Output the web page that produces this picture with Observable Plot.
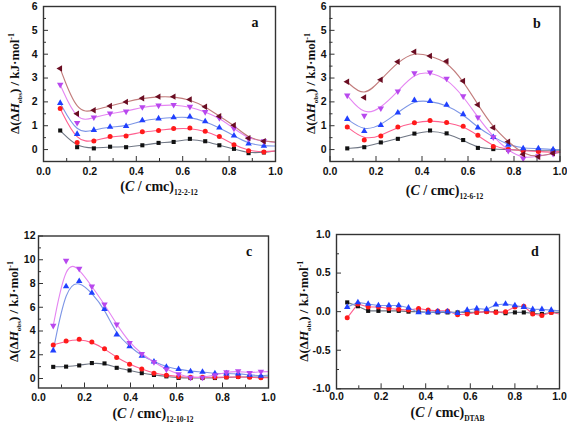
<!DOCTYPE html>
<html>
<head>
<meta charset="utf-8">
<script src="https://cdn.jsdelivr.net/npm/d3@7"></script>
<script src="https://cdn.jsdelivr.net/npm/@observablehq/plot@0.6"></script>
<style>
  html, body { margin: 0; padding: 0; background: #fff; }
  #fig { position: relative; width: 567px; height: 423px; background: #fff; overflow: hidden; }
  #fig svg { position: absolute; left: 0; top: 0; }
</style>
</head>
<body>
<div id="fig"></div>
<script>
// ---------- data ----------
const xMajor = [0, 0.2, 0.4, 0.6, 0.8, 1.0];
const xMinor = [0.1, 0.3, 0.5, 0.7, 0.9];

// panel a (12-2-12)
const aX = [0.072, 0.145, 0.217, 0.287, 0.356, 0.426, 0.496, 0.561, 0.631, 0.697, 0.758, 0.821, 0.884, 0.950];
const aBlack = [0.80, 0.10, 0.05, 0.12, 0.10, 0.18, 0.28, 0.32, 0.45, 0.35, 0.18, 0.03, -0.15, -0.12];
const aRed   = [1.72, 0.30, 0.36, 0.55, 0.57, 0.75, 0.80, 0.88, 0.90, 0.77, 0.55, 0.20, -0.05, -0.10];
const aBlue  = [1.95, 0.65, 0.82, 0.95, 0.98, 1.22, 1.30, 1.35, 1.38, 1.18, 0.92, 0.58, 0.25, 0.15];
const aMag   = [2.72, 1.12, 1.35, 1.52, 1.60, 1.78, 1.85, 1.88, 1.80, 1.58, 1.32, 0.88, 0.45, 0.35];
const aBrown = [3.40, 1.50, 1.65, 1.83, 2.00, 2.15, 2.22, 2.22, 2.10, 1.80, 1.40, 1.02, 0.48, 0.35];
const aEnd   = [-0.06, -0.06, 0.15, 0.30, 0.32];
const aYTicks = [0, 1, 2, 3, 4, 5, 6];
const aYMinor = [0.5, 1.5, 2.5, 3.5, 4.5, 5.5];

// panel b (12-6-12)
const bX = [0.075, 0.149, 0.221, 0.295, 0.367, 0.435, 0.507, 0.579, 0.643, 0.710, 0.775, 0.840, 0.906, 0.970];
const bBlack = [0.05, 0.10, 0.30, 0.45, 0.67, 0.80, 0.68, 0.40, 0.07, 0.02, 0.00, -0.03, -0.05, -0.05];
const bRed   = [0.95, 0.40, 0.57, 0.95, 1.13, 1.22, 1.14, 0.98, 0.60, 0.13, 0.00, -0.05, -0.08, -0.12];
const bBlue  = [1.28, 0.77, 1.02, 1.55, 2.07, 2.03, 1.87, 1.48, 0.92, 0.52, 0.20, 0.05, 0.05, 0.00];
const bMag   = [2.27, 1.42, 1.73, 2.44, 3.21, 3.24, 2.98, 2.24, 1.35, 0.52, -0.05, -0.38, -0.27, -0.18];
const bBrown = [2.84, 2.18, 2.93, 3.68, 4.10, 3.92, 3.70, 2.88, 1.88, 0.92, 0.33, -0.20, -0.30, -0.15];
const bEnd   = [-0.05, -0.08, 0.00, -0.12, -0.12];
const bYTicks = [0, 1, 2, 3, 4, 5, 6];
const bYMinor = [0.5, 1.5, 2.5, 3.5, 4.5, 5.5];

// panel c (12-10-12)
const cX = [0.064, 0.120, 0.177, 0.232, 0.287, 0.340, 0.396, 0.449, 0.502, 0.556, 0.609, 0.661, 0.713, 0.767, 0.817, 0.868, 0.918, 0.967];
const cBlack = [0.98, 1.00, 1.10, 1.30, 1.27, 0.90, 0.68, 0.45, 0.30, 0.18, 0.05, 0.04, 0.04, 0.04, 0.10, 0.14, 0.12, 0.12];
const cRed   = [2.83, 3.15, 3.30, 3.08, 2.50, 1.77, 1.20, 0.79, 0.45, 0.28, 0.15, 0.10, 0.10, 0.10, 0.12, 0.14, 0.10, 0.06];
const cBlue  = [2.35, 7.75, 8.20, 7.20, 5.85, 3.70, 2.70, 1.90, 1.42, 0.97, 0.79, 0.60, 0.55, 0.43, 0.42, 0.40, 0.30, 0.22];
const cMag   = [4.45, 9.92, 9.25, 7.75, 6.25, 4.55, 3.00, 2.07, 1.38, 0.76, 0.37, 0.08, 0.08, 0.28, 0.53, 0.62, 0.47, 0.58];
const cEnd   = [0.12, 0.07, 0.28, 0.58];
const cYTicks = [0, 2, 4, 6, 8, 10, 12];
const cYMinor = [1, 3, 5, 7, 9, 11];

// panel d (DTAB)
const dX = [0.048, 0.096, 0.142, 0.188, 0.235, 0.279, 0.323, 0.368, 0.411, 0.454, 0.498, 0.543, 0.586, 0.629, 0.673, 0.715, 0.758, 0.800, 0.840, 0.880, 0.921, 0.963];
const dBlack = [0.12, 0.07, 0.01, 0.01, 0.01, 0.01, 0.00, 0.00, -0.01, -0.01, -0.01, -0.01, -0.01, -0.01, 0.00, 0.00, -0.02, -0.01, -0.01, -0.02, -0.03, -0.01];
const dRed   = [-0.08, 0.10, 0.06, 0.06, 0.04, 0.03, 0.02, 0.04, 0.02, 0.01, 0.01, -0.04, -0.03, -0.01, 0.00, -0.01, 0.00, 0.06, 0.07, -0.03, -0.05, -0.01];
const dBlue  = [0.06, 0.12, 0.10, 0.08, 0.08, 0.08, 0.05, -0.01, -0.01, 0.00, 0.00, -0.02, 0.02, 0.04, 0.03, 0.09, 0.10, 0.08, 0.06, 0.03, 0.03, 0.02];
const dEnd   = [-0.01, -0.03, 0.01];
const dYTicks = [-1.0, -0.5, 0.0, 0.5, 1.0];
const dYMinor = [-0.75, -0.25, 0.25, 0.75];

// ---------- symbols ----------
const S3 = Math.sqrt(3);
const triDown = { draw(ctx, size) { const y = -Math.sqrt(size / (S3 * 3)); ctx.moveTo(0, -y * 2); ctx.lineTo(-S3 * y, y); ctx.lineTo(S3 * y, y); ctx.closePath(); } };
const triLeft = { draw(ctx, size) { const y = -Math.sqrt(size / (S3 * 3)); ctx.moveTo(y * 2, 0); ctx.lineTo(-y, -S3 * y); ctx.lineTo(-y, S3 * y); ctx.closePath(); } };

const STY = {
  black: { symbol: "square", fill: "#111111", line: "#6f7684", r: 2.3 },
  red:   { symbol: "circle", fill: "#ff1a1a", line: "#ff5f8f", r: 2.5 },
  blue:  { symbol: "triangle", fill: "#2040ff", line: "#7d96e6", r: 2.4 },
  mag:   { symbol: triDown, fill: "#b848ee", line: "#e585f2", r: 2.4 },
  brown: { symbol: triLeft, fill: "#6a0d22", line: "#c27c7c", r: 2.4 }
};

const fig = document.getElementById("fig");
const FW = 567, FH = 423;

function panel(p) {
  const fw = p.fx1 - p.fx0, fh = p.fy1 - p.fy0;
  const marks = [
    Plot.axisX(xMajor, { tickSize: 0, tickPadding: p.xPad, tickFormat: d => d.toFixed(1), label: null }),
    Plot.axisY(p.yTicks, { tickSize: 0, tickPadding: p.yPad, tickFormat: p.yFmt, label: null }),
    Plot.tickX(xMajor, { x: d => d, insetTop: fh - 5, stroke: "#333", strokeWidth: 1 }),
    Plot.tickX(xMinor, { x: d => d, insetTop: fh - 3, stroke: "#333", strokeWidth: 1 }),
    Plot.tickY(p.yTicks, { y: d => d, insetRight: fw - 5, stroke: "#333", strokeWidth: 1 }),
    Plot.tickY(p.yMinor, { y: d => d, insetRight: fw - 3, stroke: "#333", strokeWidth: 1 })
  ];
  p.series.forEach((s, i) => {
    const st = STY[s.key];
    const pts = p.x.map((x, j) => ({ x, y: s.v[j] }));
    const lineRows = pts.concat([{ x: 1.0, y: p.end[i] }]);
    marks.push(Plot.line(lineRows, { x: "x", y: "y", stroke: st.line, strokeWidth: 1.1, curve: p.curve }));
  });
  p.series.forEach((s) => {
    const st = STY[s.key];
    const pts = p.x.map((x, j) => ({ x, y: s.v[j] }));
    marks.push(Plot.dot(pts, { x: "x", y: "y", symbol: st.symbol, r: st.r, fill: st.fill, stroke: "none" }));
  });
  marks.push(Plot.frame({ stroke: "#333", strokeWidth: 1.4 }));

  const svg = Plot.plot({
    width: FW, height: FH,
    marginLeft: p.fx0, marginRight: FW - p.fx1, marginTop: p.fy0, marginBottom: FH - p.fy1,
    style: { background: "none", fontFamily: "Liberation Sans, Arial, sans-serif", fontSize: "10.5px", fontWeight: "bold", color: "#111", overflow: "visible" },
    x: { domain: [0, 1] },
    y: { domain: p.yDomain },
    marks
  });
  fig.append(svg);
  const g = d3.select(svg);

  // y label
  const cy = (p.fy0 + p.fy1) / 2;
  const yl = g.append("text")
    .attr("transform", `translate(${p.ylx + 4.5},${cy}) rotate(-90)`)
    .attr("text-anchor", "middle").attr("font-family", "Liberation Serif, Times New Roman, serif")
    .attr("font-weight", "bold").attr("font-size", 13).attr("fill", "#111");
  yl.append("tspan").text("Δ(Δ");
  yl.append("tspan").attr("font-style", "italic").text("H");
  yl.append("tspan").attr("font-size", 7).attr("dy", 3).text("obs");
  yl.append("tspan").attr("dy", -3).text(") / kJ·mol");
  yl.append("tspan").attr("font-size", 8).attr("dy", -5).text("-1");

  // x label
  const cx = (p.fx0 + p.fx1) / 2;
  const xl = g.append("text")
    .attr("x", cx).attr("y", p.xlb)
    .attr("text-anchor", "middle").attr("font-family", "Liberation Serif, Times New Roman, serif")
    .attr("font-weight", "bold").attr("font-size", 14).attr("fill", "#111");
  xl.append("tspan").text("(");
  xl.append("tspan").attr("font-style", "italic").text("C");
  xl.append("tspan").text(" / cmc)");
  xl.append("tspan").attr("font-size", 7.5).attr("dy", 4).text(p.sub);

  // panel letter
  g.append("text").attr("x", p.lx).attr("y", p.ly).attr("text-anchor", "middle")
    .attr("font-family", "Liberation Serif, Times New Roman, serif").attr("font-weight", "bold")
    .attr("font-size", 14).attr("fill", "#111").text(p.letter);
}

const intFmt = d => String(d);
const oneFmt = d => d.toFixed(1);

panel({
  fx0: 43, fx1: 275, fy0: 6, fy1: 161, yDomain: [-0.5, 6], yTicks: aYTicks, yMinor: aYMinor, yFmt: intFmt,
  xPad: 6, yPad: 6,
  x: aX, end: aEnd, curve: "basis",
  series: [{ key: "black", v: aBlack }, { key: "red", v: aRed }, { key: "blue", v: aBlue }, { key: "mag", v: aMag }, { key: "brown", v: aBrown }],
  ylx: 14, xlb: 191, sub: "12-2-12", letter: "a", lx: 255, ly: 27
});
panel({
  fx0: 329.5, fx1: 559.5, fy0: 6, fy1: 161, yDomain: [-0.5, 6], yTicks: bYTicks, yMinor: bYMinor, yFmt: intFmt,
  xPad: 6, yPad: 3.5,
  x: bX, end: bEnd, curve: "basis",
  series: [{ key: "black", v: bBlack }, { key: "red", v: bRed }, { key: "blue", v: bBlue }, { key: "mag", v: bMag }, { key: "brown", v: bBrown }],
  ylx: 310.5, xlb: 195, sub: "12-6-12", letter: "b", lx: 537, ly: 28
});
panel({
  fx0: 38, fx1: 268, fy0: 235.5, fy1: 387.5, yDomain: [-0.8, 12], yTicks: cYTicks, yMinor: cYMinor, yFmt: intFmt,
  xPad: 6, yPad: 3,
  x: cX, end: cEnd, curve: "basis",
  series: [{ key: "black", v: cBlack }, { key: "red", v: cRed }, { key: "blue", v: cBlue }, { key: "mag", v: cMag }],
  ylx: 13, xlb: 418, sub: "12-10-12", letter: "c", lx: 249, ly: 256
});
panel({
  fx0: 336, fx1: 559, fy0: 234, fy1: 388.3, yDomain: [-1, 1], yTicks: dYTicks, yMinor: dYMinor, yFmt: oneFmt,
  xPad: 3.5, yPad: 6,
  x: dX, end: dEnd, curve: "linear",
  series: [{ key: "black", v: dBlack }, { key: "red", v: dRed }, { key: "blue", v: dBlue }],
  ylx: 303, xlb: 417, sub: "DTAB", letter: "d", lx: 535, ly: 256
});
</script>
</body>
</html>
